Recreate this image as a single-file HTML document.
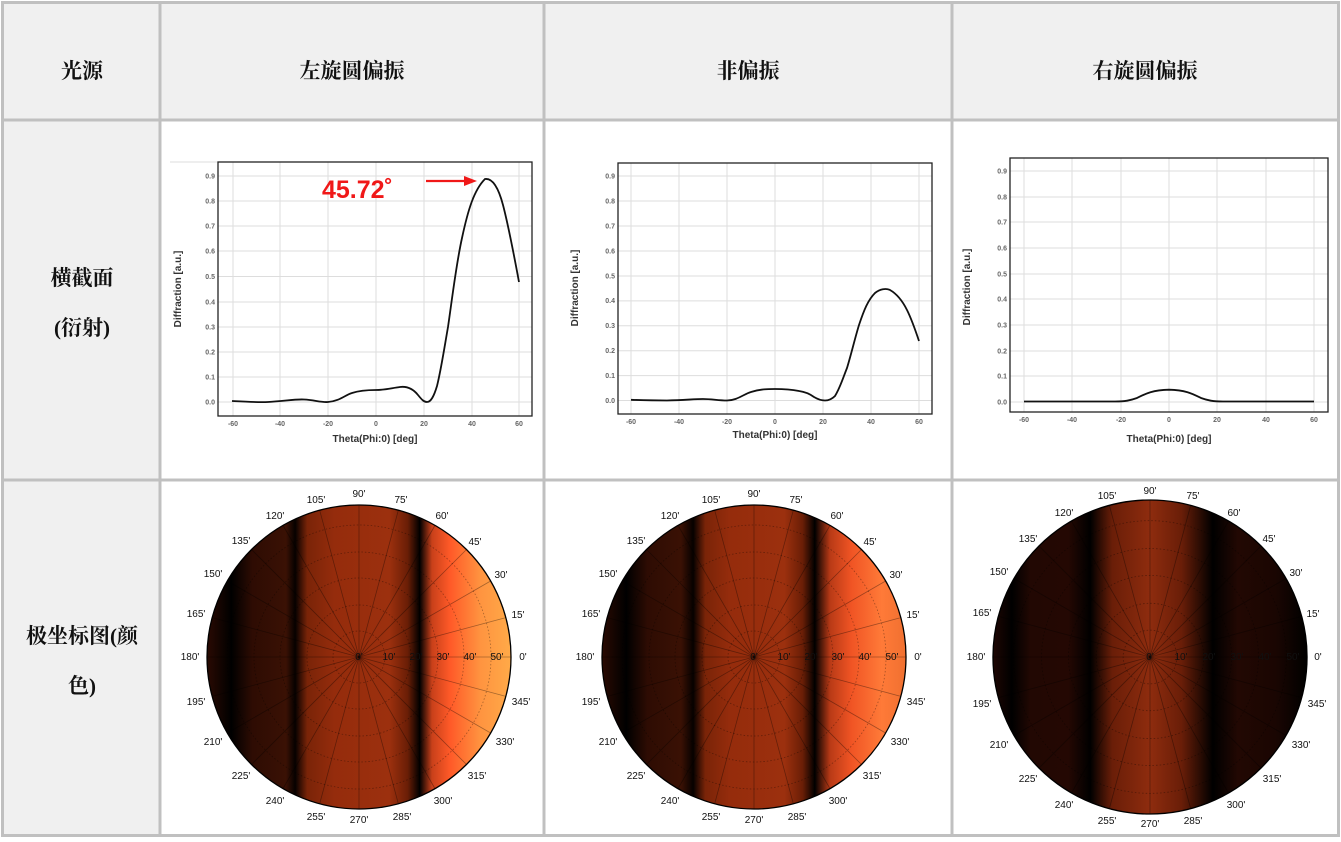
<!DOCTYPE html>
<html><head><meta charset="utf-8"><style>
body{margin:0;background:#fff;}
svg{display:block;}
.h{font-family:"Liberation Serif","Noto Serif CJK SC",serif;font-size:21px;font-weight:bold;fill:#111;}
.t{font-family:"Liberation Sans",sans-serif;font-size:7px;font-weight:bold;fill:#666;}
.al{font-family:"Liberation Sans",sans-serif;font-size:10px;font-weight:bold;fill:#333;}
.pl{font-family:"Liberation Sans",sans-serif;font-size:10px;fill:#111;text-anchor:middle;}
.g{stroke:#ddd;stroke-width:1;}
</style></head><body>
<svg width="1341" height="842" viewBox="0 0 1341 842">
<defs>
<linearGradient id="g1" x1="0" x2="1" y1="0" y2="0">
<stop offset="0" stop-color="#2a0a02"/><stop offset="0.08" stop-color="#000"/><stop offset="0.15" stop-color="#2e0c03"/><stop offset="0.26" stop-color="#3a1104"/><stop offset="0.29" stop-color="#060100"/><stop offset="0.33" stop-color="#7a2408"/><stop offset="0.42" stop-color="#952c0c"/><stop offset="0.6" stop-color="#9c300e"/><stop offset="0.66" stop-color="#6a1e06"/><stop offset="0.70" stop-color="#000"/><stop offset="0.74" stop-color="#c8401a"/><stop offset="0.8" stop-color="#ff5a28"/><stop offset="0.9" stop-color="#ff9440"/><stop offset="1" stop-color="#ffaa48"/>
</linearGradient>
<linearGradient id="g2" x1="0" x2="1" y1="0" y2="0">
<stop offset="0" stop-color="#2a0a02"/><stop offset="0.08" stop-color="#000"/><stop offset="0.15" stop-color="#2e0c03"/><stop offset="0.26" stop-color="#3a1104"/><stop offset="0.30" stop-color="#060100"/><stop offset="0.34" stop-color="#7a2408"/><stop offset="0.42" stop-color="#952c0c"/><stop offset="0.6" stop-color="#9c300e"/><stop offset="0.66" stop-color="#6a1e06"/><stop offset="0.70" stop-color="#000"/><stop offset="0.75" stop-color="#b83a16"/><stop offset="0.82" stop-color="#f05424"/><stop offset="0.92" stop-color="#ff7a38"/><stop offset="1" stop-color="#f07030"/>
</linearGradient>
<linearGradient id="g3" x1="0" x2="1" y1="0" y2="0">
<stop offset="0" stop-color="#1e0602"/><stop offset="0.06" stop-color="#000"/><stop offset="0.12" stop-color="#220803"/><stop offset="0.24" stop-color="#240803"/><stop offset="0.31" stop-color="#000"/><stop offset="0.38" stop-color="#6a1e08"/><stop offset="0.5" stop-color="#8e2c0e"/><stop offset="0.6" stop-color="#6a1e08"/><stop offset="0.70" stop-color="#000"/><stop offset="0.78" stop-color="#220803"/><stop offset="0.9" stop-color="#1a0602"/><stop offset="1" stop-color="#000"/>
</linearGradient>
<clipPath id="cc"><circle cx="0" cy="0" r="152"/></clipPath>
</defs>
<rect x="0" y="0" width="1341" height="842" fill="#fff"/>
<rect x="3" y="3" width="1335" height="117" fill="#f0f0f0"/>
<rect x="3" y="120" width="157" height="715" fill="#f0f0f0"/>
<g stroke="#c0c0c0" stroke-width="3" fill="none">
<rect x="2.5" y="2.5" width="1336" height="833"/>
<line x1="2" y1="120" x2="1339" y2="120"/><line x1="2" y1="480" x2="1339" y2="480"/>
<line x1="160" y1="2" x2="160" y2="836"/><line x1="544" y1="2" x2="544" y2="836"/><line x1="952" y1="2" x2="952" y2="836"/>
</g>
<text class="h" x="82" y="78" text-anchor="middle">光源</text>
<text class="h" x="352" y="78" text-anchor="middle">左旋圆偏振</text>
<text class="h" x="748" y="78" text-anchor="middle">非偏振</text>
<text class="h" x="1145" y="78" text-anchor="middle">右旋圆偏振</text>
<text class="h" x="82" y="285" text-anchor="middle">横截面</text>
<text class="h" x="82" y="335" text-anchor="middle">(衍射)</text>
<text class="h" x="82" y="643" text-anchor="middle">极坐标图(颜</text>
<text class="h" x="82" y="693" text-anchor="middle">色)</text>

<!-- chart 1 -->
<line x1="170" y1="162" x2="218" y2="162" stroke="#ddd"/>
<g class="g">
<line x1="233" y1="162" x2="233" y2="416"/><line x1="280" y1="162" x2="280" y2="416"/><line x1="328" y1="162" x2="328" y2="416"/><line x1="376" y1="162" x2="376" y2="416"/><line x1="424" y1="162" x2="424" y2="416"/><line x1="472" y1="162" x2="472" y2="416"/><line x1="519" y1="162" x2="519" y2="416"/>
<line x1="218" y1="402" x2="532" y2="402"/><line x1="218" y1="377" x2="532" y2="377"/><line x1="218" y1="352" x2="532" y2="352"/><line x1="218" y1="327" x2="532" y2="327"/><line x1="218" y1="302" x2="532" y2="302"/><line x1="218" y1="276.5" x2="532" y2="276.5"/><line x1="218" y1="251" x2="532" y2="251"/><line x1="218" y1="226" x2="532" y2="226"/><line x1="218" y1="201" x2="532" y2="201"/><line x1="218" y1="176" x2="532" y2="176"/>
</g>
<rect x="218" y="162" width="314" height="254" fill="none" stroke="#222" stroke-width="1.3"/>
<g class="t" text-anchor="end">
<text x="215" y="404.5">0.0</text><text x="215" y="379.5">0.1</text><text x="215" y="354.5">0.2</text><text x="215" y="329.5">0.3</text><text x="215" y="304.5">0.4</text><text x="215" y="279">0.5</text><text x="215" y="253.5">0.6</text><text x="215" y="228.5">0.7</text><text x="215" y="203.5">0.8</text><text x="215" y="178.5">0.9</text>
</g>
<g class="t" text-anchor="middle">
<text x="233" y="426">-60</text><text x="280" y="426">-40</text><text x="328" y="426">-20</text><text x="376" y="426">0</text><text x="424" y="426">20</text><text x="472" y="426">40</text><text x="519" y="426">60</text>
</g>
<text class="al" x="375" y="442" text-anchor="middle">Theta(Phi:0) [deg]</text>
<text class="al" transform="translate(181,289) rotate(-90)" text-anchor="middle">Diffraction [a.u.]</text>
<path d="M232,401 C250,402 258,402.5 268,402 C285,401 295,399 304,399.5 C315,400 320,402.5 328,402 C340,401 345,395 352,393 C358,391 364,390 376,390 C385,390 392,388 400,387 C408,386 414,390 418,395 C422,400 424,402 427,402 C431,402 434,396 437,386 C441,370 444,350 448,327 C452,300 456,265 462,238 C468,210 474,190 485,179 C492,178 498,186 503,205 C509,228 514,255 519,282" fill="none" stroke="#111" stroke-width="1.8"/>
<text x="322" y="198" font-family="Liberation Sans,sans-serif" font-size="25" font-weight="bold" fill="#f01818">45.72˚</text>
<line x1="426" y1="181" x2="466" y2="181" stroke="#f01818" stroke-width="2.2"/>
<polygon points="464,176 477,181 464,186" fill="#f01818"/>

<!-- chart 2 -->
<g class="g">
<line x1="631" y1="163" x2="631" y2="414"/><line x1="679" y1="163" x2="679" y2="414"/><line x1="727" y1="163" x2="727" y2="414"/><line x1="775" y1="163" x2="775" y2="414"/><line x1="823" y1="163" x2="823" y2="414"/><line x1="871" y1="163" x2="871" y2="414"/><line x1="919" y1="163" x2="919" y2="414"/>
<line x1="618" y1="400.5" x2="932" y2="400.5"/><line x1="618" y1="375.6" x2="932" y2="375.6"/><line x1="618" y1="350.7" x2="932" y2="350.7"/><line x1="618" y1="325.8" x2="932" y2="325.8"/><line x1="618" y1="300.9" x2="932" y2="300.9"/><line x1="618" y1="276" x2="932" y2="276"/><line x1="618" y1="251" x2="932" y2="251"/><line x1="618" y1="226" x2="932" y2="226"/><line x1="618" y1="201" x2="932" y2="201"/><line x1="618" y1="176" x2="932" y2="176"/>
</g>
<rect x="618" y="163" width="314" height="251" fill="none" stroke="#222" stroke-width="1.3"/>
<g class="t" text-anchor="end">
<text x="615" y="403">0.0</text><text x="615" y="378">0.1</text><text x="615" y="353">0.2</text><text x="615" y="328">0.3</text><text x="615" y="303">0.4</text><text x="615" y="278.5">0.5</text><text x="615" y="253.5">0.6</text><text x="615" y="228.5">0.7</text><text x="615" y="203.5">0.8</text><text x="615" y="178.5">0.9</text>
</g>
<g class="t" text-anchor="middle">
<text x="631" y="424">-60</text><text x="679" y="424">-40</text><text x="727" y="424">-20</text><text x="775" y="424">0</text><text x="823" y="424">20</text><text x="871" y="424">40</text><text x="919" y="424">60</text>
</g>
<text class="al" x="775" y="438" text-anchor="middle">Theta(Phi:0) [deg]</text>
<text class="al" transform="translate(578,288) rotate(-90)" text-anchor="middle">Diffraction [a.u.]</text>
<path d="M631,399.8 C650,400.5 658,400.5 667,400.5 C685,400 695,399 703,399 C712,399 718,400.5 727,400.5 C737,400.5 744,394 751,392 C760,389 768,389 775,389 C785,389 794,390 799,391 C806,392 810,394 814,397 C819,400 822,400.5 825,400.5 C829,400.5 832,399 835,396 C840,388 843,378 847,368 C851,355 855,338 859,325 C864,310 868,300 875,293 C880,289 886,288 890,290 C897,294 903,302 907,310 C912,320 916,332 919,341" fill="none" stroke="#111" stroke-width="1.8"/>

<!-- chart 3 -->
<g class="g">
<line x1="1024" y1="158" x2="1024" y2="412"/><line x1="1072" y1="158" x2="1072" y2="412"/><line x1="1121" y1="158" x2="1121" y2="412"/><line x1="1169" y1="158" x2="1169" y2="412"/><line x1="1217" y1="158" x2="1217" y2="412"/><line x1="1266" y1="158" x2="1266" y2="412"/><line x1="1314" y1="158" x2="1314" y2="412"/>
<line x1="1010" y1="402" x2="1328" y2="402"/><line x1="1010" y1="376" x2="1328" y2="376"/><line x1="1010" y1="351" x2="1328" y2="351"/><line x1="1010" y1="325" x2="1328" y2="325"/><line x1="1010" y1="299" x2="1328" y2="299"/><line x1="1010" y1="274" x2="1328" y2="274"/><line x1="1010" y1="248" x2="1328" y2="248"/><line x1="1010" y1="222" x2="1328" y2="222"/><line x1="1010" y1="197" x2="1328" y2="197"/><line x1="1010" y1="171" x2="1328" y2="171"/>
</g>
<rect x="1010" y="158" width="318" height="254" fill="none" stroke="#222" stroke-width="1.3"/>
<g class="t" text-anchor="end">
<text x="1007" y="404.5">0.0</text><text x="1007" y="378.5">0.1</text><text x="1007" y="353.5">0.2</text><text x="1007" y="327.5">0.3</text><text x="1007" y="301.5">0.4</text><text x="1007" y="276.5">0.5</text><text x="1007" y="250.5">0.6</text><text x="1007" y="224.5">0.7</text><text x="1007" y="199.5">0.8</text><text x="1007" y="173.5">0.9</text>
</g>
<g class="t" text-anchor="middle">
<text x="1024" y="422">-60</text><text x="1072" y="422">-40</text><text x="1121" y="422">-20</text><text x="1169" y="422">0</text><text x="1217" y="422">20</text><text x="1266" y="422">40</text><text x="1314" y="422">60</text>
</g>
<text class="al" x="1169" y="442" text-anchor="middle">Theta(Phi:0) [deg]</text>
<text class="al" transform="translate(970,287) rotate(-90)" text-anchor="middle">Diffraction [a.u.]</text>
<path d="M1024,401.5 L1115,401.5 C1125,401.5 1130,400.5 1137,398 C1145,394 1152,390 1169,389.7 C1186,390 1193,394 1201,398 C1208,400.5 1213,401.5 1223,401.5 L1314,401.5" fill="none" stroke="#111" stroke-width="1.8"/>

<!-- polar 1 -->
<g transform="translate(359,657)">
<g clip-path="url(#cc)"><rect x="-152" y="-152" width="304" height="304" fill="url(#g1)"/></g>
<g stroke="#000" stroke-opacity="0.35" stroke-width="0.8" fill="none">
<line x1="-152" y1="0" x2="152" y2="0"/><line x1="-152" y1="0" x2="152" y2="0" transform="rotate(15)"/><line x1="-152" y1="0" x2="152" y2="0" transform="rotate(30)"/><line x1="-152" y1="0" x2="152" y2="0" transform="rotate(45)"/><line x1="-152" y1="0" x2="152" y2="0" transform="rotate(60)"/><line x1="-152" y1="0" x2="152" y2="0" transform="rotate(75)"/><line x1="-152" y1="0" x2="152" y2="0" transform="rotate(90)"/><line x1="-152" y1="0" x2="152" y2="0" transform="rotate(105)"/><line x1="-152" y1="0" x2="152" y2="0" transform="rotate(120)"/><line x1="-152" y1="0" x2="152" y2="0" transform="rotate(135)"/><line x1="-152" y1="0" x2="152" y2="0" transform="rotate(150)"/><line x1="-152" y1="0" x2="152" y2="0" transform="rotate(165)"/>
<g stroke-dasharray="1.5,2"><circle r="26"/><circle r="52"/><circle r="79"/><circle r="105"/><circle r="132"/></g>
</g>
<circle r="152" fill="none" stroke="#000" stroke-width="1.3"/>
<g class="pl">
<text x="0" y="3">0'</text><text x="30" y="3">10'</text><text x="57" y="3">20'</text><text x="84" y="3">30'</text><text x="111" y="3">40'</text><text x="138" y="3">50'</text>
<text x="164" y="3">0'</text><text x="159" y="-39">15'</text><text x="142" y="-79">30'</text><text x="116" y="-112">45'</text><text x="83" y="-138">60'</text><text x="42" y="-154">75'</text><text x="0" y="-160">90'</text><text x="-43" y="-154">105'</text><text x="-84" y="-138">120'</text><text x="-118" y="-113">135'</text><text x="-146" y="-80">150'</text><text x="-163" y="-40">165'</text><text x="-169" y="3">180'</text><text x="-163" y="48">195'</text><text x="-146" y="88">210'</text><text x="-118" y="122">225'</text><text x="-84" y="147">240'</text><text x="-43" y="163">255'</text><text x="0" y="166">270'</text><text x="43" y="163">285'</text><text x="84" y="147">300'</text><text x="118" y="122">315'</text><text x="146" y="88">330'</text><text x="162" y="48">345'</text>
</g>
</g>

<!-- polar 2 -->
<g transform="translate(754,657)">
<g clip-path="url(#cc)"><rect x="-152" y="-152" width="304" height="304" fill="url(#g2)"/></g>
<g stroke="#000" stroke-opacity="0.35" stroke-width="0.8" fill="none">
<line x1="-152" y1="0" x2="152" y2="0"/><line x1="-152" y1="0" x2="152" y2="0" transform="rotate(15)"/><line x1="-152" y1="0" x2="152" y2="0" transform="rotate(30)"/><line x1="-152" y1="0" x2="152" y2="0" transform="rotate(45)"/><line x1="-152" y1="0" x2="152" y2="0" transform="rotate(60)"/><line x1="-152" y1="0" x2="152" y2="0" transform="rotate(75)"/><line x1="-152" y1="0" x2="152" y2="0" transform="rotate(90)"/><line x1="-152" y1="0" x2="152" y2="0" transform="rotate(105)"/><line x1="-152" y1="0" x2="152" y2="0" transform="rotate(120)"/><line x1="-152" y1="0" x2="152" y2="0" transform="rotate(135)"/><line x1="-152" y1="0" x2="152" y2="0" transform="rotate(150)"/><line x1="-152" y1="0" x2="152" y2="0" transform="rotate(165)"/>
<g stroke-dasharray="1.5,2"><circle r="26"/><circle r="52"/><circle r="79"/><circle r="105"/><circle r="132"/></g>
</g>
<circle r="152" fill="none" stroke="#000" stroke-width="1.3"/>
<g class="pl">
<text x="0" y="3">0'</text><text x="30" y="3">10'</text><text x="57" y="3">20'</text><text x="84" y="3">30'</text><text x="111" y="3">40'</text><text x="138" y="3">50'</text>
<text x="164" y="3">0'</text><text x="159" y="-39">15'</text><text x="142" y="-79">30'</text><text x="116" y="-112">45'</text><text x="83" y="-138">60'</text><text x="42" y="-154">75'</text><text x="0" y="-160">90'</text><text x="-43" y="-154">105'</text><text x="-84" y="-138">120'</text><text x="-118" y="-113">135'</text><text x="-146" y="-80">150'</text><text x="-163" y="-40">165'</text><text x="-169" y="3">180'</text><text x="-163" y="48">195'</text><text x="-146" y="88">210'</text><text x="-118" y="122">225'</text><text x="-84" y="147">240'</text><text x="-43" y="163">255'</text><text x="0" y="166">270'</text><text x="43" y="163">285'</text><text x="84" y="147">300'</text><text x="118" y="122">315'</text><text x="146" y="88">330'</text><text x="162" y="48">345'</text>
</g>
</g>

<!-- polar 3 -->
<g transform="translate(1150,657)">
<g transform="scale(1.033)">
<g clip-path="url(#cc)"><rect x="-152" y="-152" width="304" height="304" fill="url(#g3)"/></g>
<g stroke="#000" stroke-opacity="0.35" stroke-width="0.8" fill="none">
<line x1="-152" y1="0" x2="152" y2="0"/><line x1="-152" y1="0" x2="152" y2="0" transform="rotate(15)"/><line x1="-152" y1="0" x2="152" y2="0" transform="rotate(30)"/><line x1="-152" y1="0" x2="152" y2="0" transform="rotate(45)"/><line x1="-152" y1="0" x2="152" y2="0" transform="rotate(60)"/><line x1="-152" y1="0" x2="152" y2="0" transform="rotate(75)"/><line x1="-152" y1="0" x2="152" y2="0" transform="rotate(90)"/><line x1="-152" y1="0" x2="152" y2="0" transform="rotate(105)"/><line x1="-152" y1="0" x2="152" y2="0" transform="rotate(120)"/><line x1="-152" y1="0" x2="152" y2="0" transform="rotate(135)"/><line x1="-152" y1="0" x2="152" y2="0" transform="rotate(150)"/><line x1="-152" y1="0" x2="152" y2="0" transform="rotate(165)"/>
<g stroke-dasharray="1.5,2"><circle r="26"/><circle r="52"/><circle r="79"/><circle r="105"/><circle r="132"/></g>
</g>
<circle r="152" fill="none" stroke="#000" stroke-width="1.3"/>
</g>
<g class="pl">
<text x="0" y="3">0'</text><text x="31" y="3">10'</text><text x="59" y="3">20'</text><text x="87" y="3">30'</text><text x="115" y="3">40'</text><text x="143" y="3">50'</text>
<text x="168" y="3">0'</text><text x="163" y="-40">15'</text><text x="146" y="-81">30'</text><text x="119" y="-115">45'</text><text x="84" y="-141">60'</text><text x="43" y="-158">75'</text><text x="0" y="-163">90'</text><text x="-43" y="-158">105'</text><text x="-86" y="-141">120'</text><text x="-122" y="-115">135'</text><text x="-151" y="-82">150'</text><text x="-168" y="-41">165'</text><text x="-174" y="3">180'</text><text x="-168" y="50">195'</text><text x="-151" y="91">210'</text><text x="-122" y="125">225'</text><text x="-86" y="151">240'</text><text x="-43" y="167">255'</text><text x="0" y="170">270'</text><text x="43" y="167">285'</text><text x="86" y="151">300'</text><text x="122" y="125">315'</text><text x="151" y="91">330'</text><text x="167" y="50">345'</text>
</g>
</g>
</svg>
</body></html>
